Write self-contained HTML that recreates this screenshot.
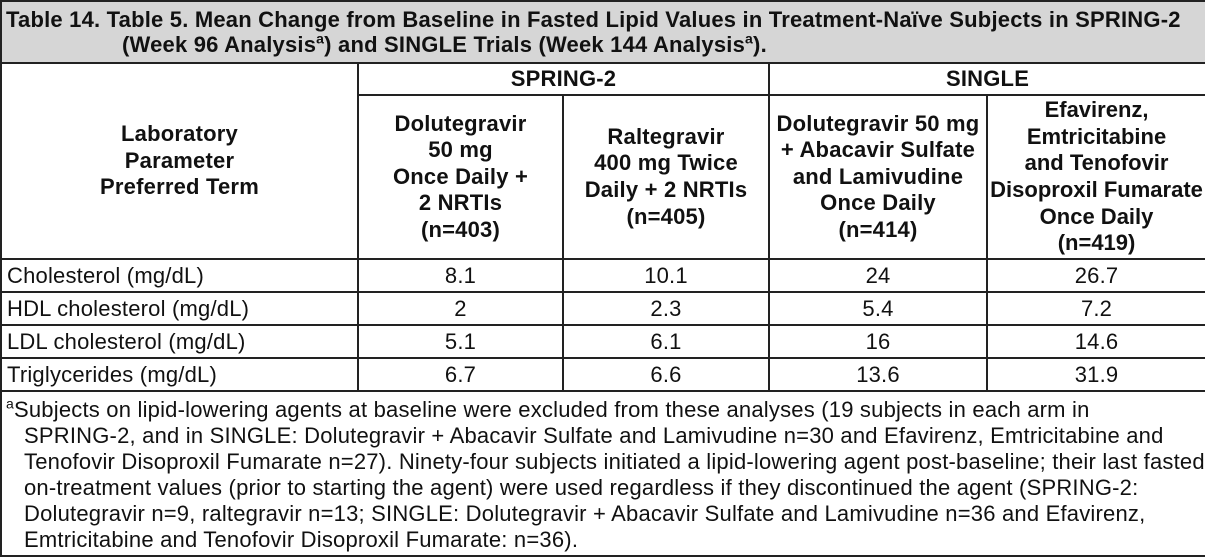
<!DOCTYPE html>
<html><head><meta charset="utf-8"><style>
html,body{margin:0;padding:0;background:#fff;}
body{width:1205px;height:557px;overflow:hidden;font-family:"Liberation Sans",Arial,sans-serif;color:#111;}
table{border-collapse:collapse;table-layout:fixed;width:1205px;height:557px;}
td{border:2px solid #222;padding:0;font-size:22px;letter-spacing:0.2px;text-align:center;vertical-align:middle;line-height:26px;white-space:nowrap;}
.title{background:#d6d6d6;font-weight:bold;font-size:22px;text-align:left;padding:0 4px;line-height:25px;height:60px;}
.title .l2{padding-left:116px;}
.grp{font-weight:bold;height:30px;}
.hd{font-weight:bold;height:162px;line-height:26.6px;}
.lab{text-align:left;padding-left:5px;}
.dr td{height:31px;}
.foot{text-align:left;vertical-align:top;padding:5px 4px 0 4px;line-height:26px;font-size:22px;}
.foot .ind{padding-left:18px;}
sup{font-size:14px;line-height:0;}
</style></head><body>
<table>
<colgroup><col style="width:357px"><col style="width:205px"><col style="width:206px"><col style="width:218px"><col style="width:219px"></colgroup>
<tr><td colspan="5" class="title">Table 14. Table 5. Mean Change from Baseline in Fasted Lipid Values in Treatment-Naïve Subjects in SPRING-2<br><span class="l2">(Week 96 Analysis<sup>a</sup>) and SINGLE Trials (Week 144 Analysis<sup>a</sup>).</span></td></tr>
<tr><td rowspan="2" class="hd">Laboratory<br>Parameter<br>Preferred Term</td>
<td colspan="2" class="grp">SPRING-2</td>
<td colspan="2" class="grp">SINGLE</td></tr>
<tr><td class="hd">Dolutegravir<br>50 mg<br>Once Daily +<br>2 NRTIs<br>(n=403)</td>
<td class="hd">Raltegravir<br>400 mg Twice<br>Daily + 2 NRTIs<br>(n=405)</td>
<td class="hd">Dolutegravir 50 mg<br>+ Abacavir Sulfate<br>and Lamivudine<br>Once Daily<br>(n=414)</td>
<td class="hd" style="letter-spacing:0">Efavirenz,<br>Emtricitabine<br>and Tenofovir<br>Disoproxil Fumarate<br>Once Daily<br>(n=419)</td></tr>
<tr class="dr"><td class="lab">Cholesterol (mg/dL)</td><td>8.1</td><td>10.1</td><td>24</td><td>26.7</td></tr>
<tr class="dr"><td class="lab">HDL cholesterol (mg/dL)</td><td>2</td><td>2.3</td><td>5.4</td><td>7.2</td></tr>
<tr class="dr"><td class="lab">LDL cholesterol (mg/dL)</td><td>5.1</td><td>6.1</td><td>16</td><td>14.6</td></tr>
<tr class="dr"><td class="lab">Triglycerides (mg/dL)</td><td>6.7</td><td>6.6</td><td>13.6</td><td>31.9</td></tr>
<tr><td colspan="5" class="foot"><sup>a</sup>Subjects on lipid-lowering agents at baseline were excluded from these analyses (19 subjects in each arm in<br><span class="ind">SPRING-2, and in SINGLE: Dolutegravir + Abacavir Sulfate and Lamivudine n=30 and Efavirenz, Emtricitabine and</span><br><span class="ind">Tenofovir Disoproxil Fumarate n=27). Ninety-four subjects initiated a lipid-lowering agent post-baseline; their last fasted</span><br><span class="ind">on-treatment values (prior to starting the agent) were used regardless if they discontinued the agent (SPRING-2:</span><br><span class="ind">Dolutegravir n=9, raltegravir n=13; SINGLE: Dolutegravir + Abacavir Sulfate and Lamivudine n=36 and Efavirenz,</span><br><span class="ind">Emtricitabine and Tenofovir Disoproxil Fumarate: n=36).</span></td></tr>
</table>
</body></html>
